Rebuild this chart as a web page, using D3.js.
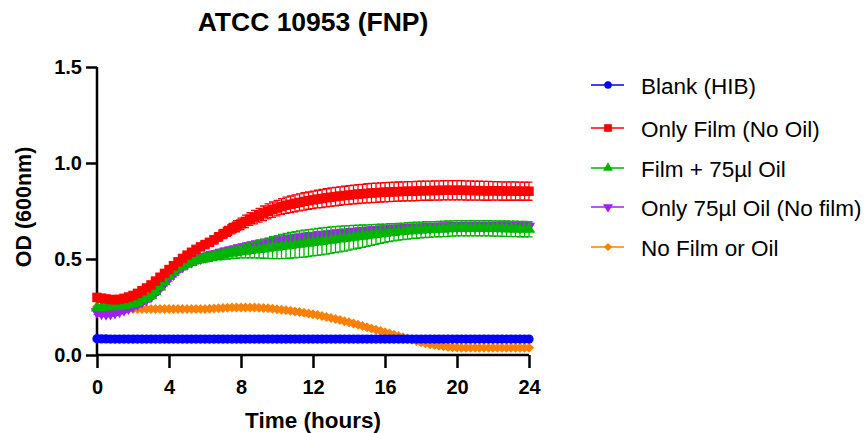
<!DOCTYPE html>
<html>
<head>
<meta charset="utf-8">
<script src="https://cdn.jsdelivr.net/npm/d3@7"></script>
<style>
  body { margin: 0; background: #fff; }
  svg { font-family: Arial, "Liberation Sans", sans-serif; }
</style>
</head>
<body>
<div id="chart"></div>
<script>
// readings every 15 minutes, 0 - 24 h (one row = 2 hours)
var hours = d3.range(0, 24.001, 0.25);

var blank = [
  0.085,0.084,0.084,0.083,0.083,0.083,0.083,0.083,
  0.083,0.083,0.083,0.083,0.083,0.083,0.083,0.083,
  0.083,0.083,0.083,0.083,0.083,0.083,0.083,0.083,
  0.083,0.083,0.083,0.083,0.083,0.083,0.083,0.083,
  0.083,0.083,0.083,0.083,0.083,0.083,0.083,0.083,
  0.083,0.083,0.083,0.083,0.083,0.083,0.083,0.083,
  0.083,0.083,0.083,0.083,0.083,0.083,0.083,0.083,
  0.083,0.083,0.083,0.083,0.083,0.083,0.083,0.083,
  0.083,0.083,0.083,0.083,0.083,0.083,0.083,0.083,
  0.083,0.083,0.083,0.083,0.083,0.083,0.083,0.083,
  0.083,0.083,0.083,0.083,0.083,0.083,0.083,0.083,
  0.083,0.083,0.083,0.083,0.083,0.083,0.083,0.083,
  0.083];

var onlyFilm = [
  0.300,0.296,0.292,0.289,0.288,0.290,0.295,0.302,
  0.310,0.321,0.335,0.349,0.365,0.385,0.405,0.425,
  0.445,0.465,0.485,0.503,0.520,0.535,0.550,0.563,
  0.575,0.587,0.600,0.615,0.630,0.644,0.658,0.671,
  0.683,0.696,0.708,0.718,0.728,0.738,0.748,0.757,
  0.765,0.773,0.780,0.785,0.790,0.795,0.800,0.804,
  0.808,0.812,0.815,0.819,0.822,0.825,0.828,0.831,
  0.833,0.836,0.838,0.840,0.842,0.844,0.845,0.847,
  0.848,0.849,0.850,0.851,0.852,0.853,0.853,0.854,
  0.855,0.856,0.856,0.857,0.857,0.858,0.858,0.858,
  0.858,0.858,0.857,0.857,0.856,0.856,0.855,0.855,
  0.855,0.855,0.854,0.854,0.854,0.854,0.853,0.853,
  0.853];
var onlyFilmErr = [
  0.010,0.010,0.010,0.010,0.010,0.010,0.010,0.010,
  0.010,0.010,0.011,0.011,0.012,0.012,0.012,0.012,
  0.012,0.013,0.014,0.015,0.015,0.016,0.016,0.017,
  0.018,0.019,0.020,0.022,0.024,0.026,0.027,0.029,
  0.030,0.032,0.033,0.035,0.036,0.038,0.039,0.040,
  0.040,0.041,0.042,0.043,0.044,0.044,0.045,0.045,
  0.046,0.046,0.047,0.047,0.048,0.048,0.048,0.048,
  0.049,0.049,0.049,0.049,0.050,0.050,0.050,0.050,
  0.050,0.050,0.050,0.050,0.050,0.050,0.050,0.050,
  0.050,0.050,0.050,0.050,0.050,0.050,0.050,0.050,
  0.050,0.050,0.050,0.050,0.049,0.049,0.049,0.049,
  0.048,0.048,0.048,0.048,0.048,0.048,0.047,0.047,
  0.047];

var filmOil = [
  0.245,0.248,0.250,0.251,0.252,0.255,0.258,0.262,
  0.268,0.276,0.285,0.296,0.310,0.330,0.355,0.382,
  0.410,0.432,0.450,0.464,0.475,0.484,0.492,0.498,
  0.504,0.509,0.514,0.518,0.522,0.526,0.530,0.534,
  0.538,0.541,0.544,0.547,0.550,0.553,0.556,0.559,
  0.562,0.565,0.568,0.571,0.574,0.577,0.580,0.583,
  0.586,0.589,0.592,0.595,0.598,0.601,0.604,0.607,
  0.610,0.613,0.616,0.619,0.622,0.625,0.628,0.631,
  0.634,0.637,0.639,0.642,0.644,0.646,0.648,0.650,
  0.651,0.653,0.654,0.655,0.656,0.657,0.658,0.659,
  0.660,0.660,0.660,0.660,0.660,0.660,0.660,0.660,
  0.659,0.659,0.658,0.658,0.657,0.657,0.656,0.656,
  0.655];
var filmOilErr = [
  0.010,0.010,0.010,0.010,0.010,0.010,0.010,0.010,
  0.010,0.010,0.010,0.010,0.010,0.010,0.011,0.011,
  0.012,0.012,0.013,0.014,0.015,0.016,0.017,0.018,
  0.020,0.021,0.022,0.023,0.025,0.026,0.028,0.030,
  0.032,0.035,0.038,0.041,0.045,0.049,0.053,0.057,
  0.060,0.063,0.065,0.067,0.068,0.069,0.070,0.070,
  0.070,0.070,0.070,0.070,0.069,0.068,0.067,0.066,
  0.064,0.062,0.060,0.058,0.056,0.054,0.052,0.050,
  0.048,0.047,0.045,0.044,0.043,0.043,0.042,0.042,
  0.041,0.041,0.041,0.040,0.040,0.040,0.040,0.040,
  0.040,0.040,0.040,0.040,0.040,0.040,0.040,0.040,
  0.040,0.040,0.040,0.040,0.040,0.040,0.040,0.040,
  0.040];

var oilOnly = [
  0.225,0.218,0.215,0.217,0.222,0.229,0.236,0.245,
  0.255,0.266,0.278,0.291,0.305,0.326,0.350,0.375,
  0.400,0.423,0.445,0.461,0.475,0.487,0.497,0.505,
  0.512,0.518,0.524,0.530,0.535,0.541,0.546,0.552,
  0.557,0.562,0.567,0.572,0.577,0.581,0.585,0.589,
  0.593,0.597,0.600,0.603,0.606,0.609,0.612,0.615,
  0.617,0.620,0.622,0.625,0.627,0.630,0.632,0.634,
  0.636,0.638,0.640,0.642,0.644,0.646,0.648,0.650,
  0.651,0.653,0.654,0.656,0.657,0.658,0.659,0.660,
  0.661,0.662,0.663,0.664,0.665,0.666,0.666,0.667,
  0.667,0.668,0.668,0.668,0.668,0.669,0.669,0.669,
  0.669,0.669,0.670,0.670,0.670,0.670,0.670,0.670,
  0.670];
var oilOnlyErr = [
  0.015,0.015,0.015,0.015,0.015,0.015,0.015,0.015,
  0.015,0.015,0.015,0.015,0.015,0.015,0.015,0.015,
  0.015,0.016,0.016,0.017,0.017,0.018,0.018,0.019,
  0.019,0.020,0.020,0.020,0.021,0.021,0.021,0.021,
  0.022,0.022,0.022,0.022,0.022,0.022,0.022,0.022,
  0.022,0.022,0.022,0.022,0.022,0.022,0.022,0.022,
  0.022,0.022,0.022,0.022,0.022,0.022,0.022,0.022,
  0.022,0.022,0.022,0.022,0.022,0.022,0.022,0.022,
  0.022,0.022,0.022,0.022,0.022,0.022,0.022,0.022,
  0.022,0.022,0.022,0.022,0.022,0.022,0.022,0.022,
  0.022,0.022,0.022,0.022,0.022,0.022,0.022,0.022,
  0.022,0.022,0.022,0.022,0.022,0.022,0.022,0.022,
  0.022];

var noFilm = [
  0.250,0.248,0.245,0.242,0.240,0.240,0.240,0.240,
  0.240,0.240,0.240,0.240,0.240,0.240,0.240,0.240,
  0.240,0.240,0.240,0.240,0.240,0.240,0.240,0.240,
  0.240,0.241,0.242,0.243,0.245,0.246,0.247,0.248,
  0.248,0.248,0.248,0.247,0.246,0.245,0.243,0.241,
  0.238,0.236,0.233,0.230,0.227,0.224,0.220,0.216,
  0.212,0.208,0.203,0.198,0.193,0.188,0.182,0.176,
  0.170,0.164,0.157,0.151,0.144,0.138,0.131,0.125,
  0.118,0.112,0.105,0.099,0.092,0.086,0.079,0.073,
  0.067,0.061,0.056,0.052,0.048,0.045,0.042,0.040,
  0.039,0.038,0.038,0.038,0.038,0.038,0.038,0.038,
  0.038,0.038,0.038,0.038,0.038,0.038,0.038,0.038,
  0.038];

var xTicks = [0, 4, 8, 12, 16, 20, 24];
var yTicks = [0, 0.5, 1.0, 1.5];

// rot: rotation of the marker in degrees
var series = [
  {name: "Blank (HIB)", values: blank, err: null, color: "#0000ff", symbol: d3.symbolCircle, size: 68, rot: 0},
  {name: "Only Film (No Oil)", values: onlyFilm, err: onlyFilmErr, color: "#ff0000", symbol: d3.symbolSquare, size: 90, rot: 0},
  {name: "Film + 75\u00b5l Oil", values: filmOil, err: filmOilErr, color: "#00b400", symbol: d3.symbolTriangle, size: 66, rot: 0},
  {name: "Only 75\u00b5l Oil (No film)", values: oilOnly, err: oilOnlyErr, color: "#a020f0", symbol: d3.symbolTriangle, size: 66, rot: 180},
  {name: "No Film or Oil", values: noFilm, err: null, color: "#ff8000", symbol: d3.symbolSquare, size: 50, rot: 45}
];

var width = 866, height = 433;
var margin = {top: 67, left: 97, right: 337, bottom: 78};

var svg = d3.select("#chart").append("svg")
  .attr("width", width)
  .attr("height", height);

var x = d3.scaleLinear().domain([0, 24]).range([margin.left, width - margin.right]);
var y = d3.scaleLinear().domain([0, 1.5]).range([height - margin.bottom, margin.top]);

// title
svg.append("text")
  .attr("x", 313).attr("y", 31)
  .attr("text-anchor", "middle")
  .style("font-size", "26.5px").style("font-weight", "bold")
  .text("ATCC 10953 (FNP)");

// axes
var xAxis = svg.append("g")
  .attr("transform", "translate(0," + y(0) + ")")
  .call(d3.axisBottom(x).tickValues(xTicks).tickSize(13).tickPadding(12).tickFormat(d3.format("d")));
var yAxis = svg.append("g")
  .attr("transform", "translate(" + x(0) + ",0)")
  .call(d3.axisLeft(y).tickValues(yTicks).tickSize(11).tickPadding(4).tickFormat(d3.format(".1f")));

[xAxis, yAxis].forEach(function(a) {
  a.select(".domain").attr("stroke", "#000").attr("stroke-width", 2.5);
  a.selectAll(".tick line").attr("stroke", "#000").attr("stroke-width", 2.5);
  a.selectAll(".tick text").attr("fill", "#000")
    .style("font-size", "20px").style("font-weight", "bold").style("font-family", "Arial, 'Liberation Sans', sans-serif");
});
// drop the outer ticks d3 adds to the domain path
xAxis.select(".domain").attr("d", "M" + x(0) + ",0H" + x(24));
yAxis.select(".domain").attr("d", "M0," + y(1.5) + "V" + y(0));

svg.append("text")
  .attr("x", 313).attr("y", 428)
  .attr("text-anchor", "middle")
  .style("font-size", "22.5px").style("font-weight", "bold")
  .text("Time (hours)");

svg.append("text")
  .attr("transform", "translate(31,207) rotate(-90)")
  .attr("text-anchor", "middle")
  .style("font-size", "21.5px").style("font-weight", "bold")
  .text("OD (600nm)");

// draw in reverse legend order so Blank ends on top
var plot = svg.append("g");
var line = d3.line().x(function(d, i) { return x(hours[i]); }).y(function(d) { return y(d); });

series.slice().reverse().forEach(function(s) {
  var g = plot.append("g");
  g.append("path")
    .attr("d", line(s.values))
    .attr("fill", "none")
    .attr("stroke", s.color)
    .attr("stroke-width", 1.2);

  if (s.err) {
    g.selectAll(".err").data(s.values).enter().append("path")
      .attr("d", function(d, i) {
        var cx = x(hours[i]), y1 = y(d + s.err[i]), y2 = y(d - s.err[i]);
        return "M" + cx + "," + y1 + "V" + y2 +
          "M" + (cx - 3.5) + "," + y1 + "H" + (cx + 3.5) +
          "M" + (cx - 3.5) + "," + y2 + "H" + (cx + 3.5);
      })
      .attr("fill", "none")
      .attr("stroke", s.color)
      .attr("stroke-width", 1.3);
  }

  g.selectAll(".pt").data(s.values).enter().append("path")
    .attr("d", d3.symbol().type(s.symbol).size(s.size))
    .attr("transform", function(d, i) {
      return "translate(" + x(hours[i]) + "," + y(d) + ") rotate(" + s.rot + ")";
    })
    .attr("fill", s.color);
});

// legend
var legend = svg.append("g");
var rowY = [85, 128, 168, 207, 247];
series.forEach(function(s, i) {
  var row = legend.append("g").attr("transform", "translate(0," + rowY[i] + ")");
  row.append("line")
    .attr("x1", 591).attr("x2", 624)
    .attr("stroke", s.color).attr("stroke-width", 1.5);
  row.append("path")
    .attr("d", d3.symbol().type(s.symbol).size(s.size * 0.65))
    .attr("transform", "translate(608,0) rotate(" + s.rot + ")")
    .attr("fill", s.color);
  row.append("text")
    .attr("x", 641).attr("y", 8.5)
    .style("font-size", "22.5px")
    .text(s.name);
});
</script>
</body>
</html>
